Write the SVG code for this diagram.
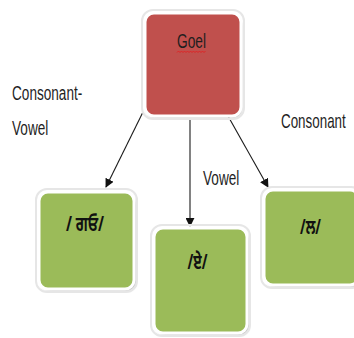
<svg xmlns="http://www.w3.org/2000/svg" width="354" height="338" viewBox="0 0 354 338">
  <style>
    .box { stroke: #ffffff; stroke-width: 3; }
    .red { fill: #C0504D; }
    .green { fill: #9BBB59; }
    .shadow { fill: #b8b8b8; filter: url(#soft); }
    .halo { fill: none; stroke: #e6e6e6; stroke-width: 2; }
    .lbl { font-family: "Liberation Sans", "Noto Sans", sans-serif; font-size: 20px; fill: #1f1f1f; }
    .gur { font-family: "Noto Sans", "Noto Sans Gurmukhi", "DejaVu Sans", sans-serif; font-size: 21px; font-weight: bold; fill: #111111; }
    .edge { stroke: #1a1a1a; stroke-width: 1.1; fill: none; marker-end: url(#arrow); }
  </style>
  <defs>
    <filter id="soft" x="-10%" y="-10%" width="120%" height="120%">
      <feGaussianBlur stdDeviation="1"/>
    </filter>
    <marker id="arrow" viewBox="0 0 10 10" refX="9" refY="5" markerWidth="9" markerHeight="9" markerUnits="userSpaceOnUse" orient="auto">
      <path d="M0,0 L10,5 L0,10 z" fill="#111111"/>
    </marker>
  </defs>

  <rect width="354" height="338" fill="#ffffff"/>

  <!-- connectors -->
  <g id="connectors">
    <line class="edge" x1="143" y1="112" x2="106" y2="187"/>
    <line class="edge" x1="190" y1="118" x2="190" y2="226"/>
    <line class="edge" x1="228" y1="116" x2="268" y2="187"/>
  </g>

  <!-- root node -->
  <g id="goel">
    <rect class="shadow" x="146" y="17" width="96" height="101" rx="9"/>
    <rect class="halo" x="142" y="10" width="102" height="109" rx="11"/>
    <rect class="box red" x="145" y="13" width="96" height="103" rx="9"/>
    <text class="lbl" x="191.5" y="48" text-anchor="middle" textLength="29" lengthAdjust="spacingAndGlyphs">Goel</text>
    <path d="M177,52.5 l1.5,-1.5 l1.5,1.5 l1.5,-1.5 l1.5,1.5 l1.5,-1.5 l1.5,1.5 l1.5,-1.5 l1.5,1.5 l1.5,-1.5 l1.5,1.5 l1.5,-1.5 l1.5,1.5 l1.5,-1.5 l1.5,1.5 l1.5,-1.5 l1.5,1.5 l1.5,-1.5 l1.5,1.5 l1.5,-1.5" fill="none" stroke="#e02020" stroke-width="0.9"/>
  </g>

  <!-- child: consonant-vowel -->
  <g id="ga-o">
    <rect class="shadow" x="41" y="195" width="95" height="96" rx="9"/>
    <rect class="halo" x="36" y="189" width="101" height="103" rx="11"/>
    <rect class="box green" x="39" y="192" width="95" height="97" rx="9"/>
    <text class="gur" x="85" y="231" text-anchor="middle" textLength="38" lengthAdjust="spacingAndGlyphs">/ ਗਓ/</text>
  </g>

  <!-- child: vowel -->
  <g id="ae">
    <rect class="shadow" x="156" y="231" width="93" height="104" rx="9"/>
    <rect class="halo" x="151" y="225" width="99" height="111" rx="11"/>
    <rect class="box green" x="154" y="228" width="93" height="105" rx="9"/>
    <text class="gur" x="197.5" y="269" text-anchor="middle" textLength="20" lengthAdjust="spacingAndGlyphs">/ਏ/</text>
  </g>

  <!-- child: consonant -->
  <g id="la">
    <rect class="shadow" x="266" y="193" width="95" height="94" rx="9"/>
    <rect class="halo" x="261" y="187" width="101" height="101" rx="11"/>
    <rect class="box green" x="264" y="190" width="95" height="95" rx="9"/>
    <text class="gur" x="310.5" y="234" text-anchor="middle" textLength="21" lengthAdjust="spacingAndGlyphs">/ਲ/</text>
  </g>

  <!-- edge labels (condensed horizontally) -->
  <g id="labels">
    <text class="lbl" transform="translate(12,100) scale(0.68,1)">Consonant-</text>
    <text class="lbl" transform="translate(12,135) scale(0.68,1)">Vowel</text>
    <text class="lbl" transform="translate(281,128) scale(0.67,1)">Consonant</text>
    <text class="lbl" transform="translate(203,185) scale(0.68,1)">Vowel</text>
  </g>
</svg>
